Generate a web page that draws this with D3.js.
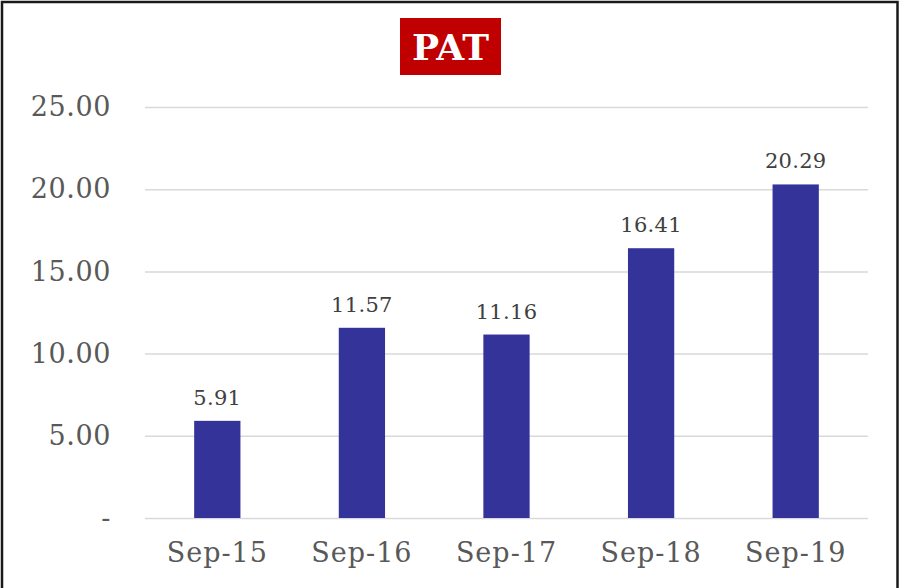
<!DOCTYPE html>
<html>
<head>
<meta charset="utf-8">
<script src="https://cdn.jsdelivr.net/npm/d3@7"></script>
<style>
  body { margin: 0; background: #fff; }
  text { font-family: "DejaVu Serif", "Liberation Serif", serif; }
</style>
</head>
<body>
<div id="chart"></div>
<script>
// data
var periods = ["Sep-15", "Sep-16", "Sep-17", "Sep-18", "Sep-19"]
var pat = [5.91, 11.57, 11.16, 16.41, 20.29]
var yTicks = [0, 5, 10, 15, 20, 25]

var W = 901, H = 588
var margin = { top: 107, right: 33, bottom: 70, left: 145 },
  width = W - margin.left - margin.right,
  height = H - margin.top - margin.bottom

var root = d3.select("#chart").append("svg")
  .attr("width", W)
  .attr("height", H)

// outer frame
root.append("rect")
  .attr("x", 2).attr("y", 2)
  .attr("width", 895.5).attr("height", 600)
  .attr("fill", "none")
  .attr("stroke", "#1a1a1a")
  .attr("stroke-width", 2.5)

// title box
var title = root.append("g").attr("transform", "translate(450.5,47)")
title.append("rect")
  .attr("x", -50.5).attr("y", -29)
  .attr("width", 101).attr("height", 57)
  .attr("fill", "#c00000")
title.append("text")
  .attr("text-anchor", "middle")
  .attr("dy", "0.36em")
  .attr("fill", "#fff")
  .style("font-size", "36px")
  .style("font-weight", "bold")
  .text("PAT")

var svg = root.append("g")
  .attr("transform", "translate(" + margin.left + "," + margin.top + ")")

var x = d3.scaleBand()
  .domain(periods)
  .range([0, width])
  .paddingInner(0.68)
  .paddingOuter(0.34)

var y = d3.scaleLinear()
  .domain([0, 25])
  .range([height, 0])

// gridlines
svg.append("g")
  .selectAll("line")
  .data(yTicks)
  .enter()
  .append("line")
  .attr("x1", 0).attr("x2", width)
  .attr("y1", function(d) { return y(d) + 0.5 })
  .attr("y2", function(d) { return y(d) + 0.5 })
  .attr("stroke", "#d9d9d9")
  .attr("stroke-width", 1.5)

// y axis labels
var yAxis = svg.append("g")
  .attr("transform", "translate(-31,0)")
  .call(d3.axisLeft(y).tickValues(yTicks).tickSize(0)
    .tickFormat(function(d) { return d === 0 ? "-" : d3.format(".2f")(d) }))
yAxis.select(".domain").remove()
yAxis.selectAll("text")
  .attr("fill", "#595959")
  .style("font-size", "27px")
  .style("letter-spacing", "0.6px")
  .style("font-family", "DejaVu Serif, serif")

// bars
svg.append("g")
  .selectAll("rect")
  .data(pat)
  .enter()
  .append("rect")
  .attr("x", function(d, i) { return x(periods[i]) })
  .attr("y", function(d) { return y(d) })
  .attr("width", x.bandwidth())
  .attr("height", function(d) { return height - y(d) })
  .attr("fill", "#333399")

// value labels
svg.append("g")
  .selectAll("text")
  .data(pat)
  .enter()
  .append("text")
  .attr("text-anchor", "middle")
  .attr("x", function(d, i) { return x(periods[i]) + x.bandwidth() / 2 })
  .attr("y", function(d) { return y(d) - 16 })
  .attr("fill", "#404040")
  .style("font-size", "21px")
  .style("letter-spacing", "0.3px")
  .text(function(d) { return d3.format(".2f")(d) })

// x axis
var xAxis = svg.append("g")
  .attr("transform", "translate(0," + height + ")")
  .call(d3.axisBottom(x).tickSize(0).tickPadding(25))
xAxis.select(".domain").remove()
xAxis.selectAll("text")
  .attr("fill", "#595959")
  .style("font-size", "27px")
  .style("letter-spacing", "1px")
  .style("font-family", "DejaVu Serif, serif")
</script>
</body>
</html>
